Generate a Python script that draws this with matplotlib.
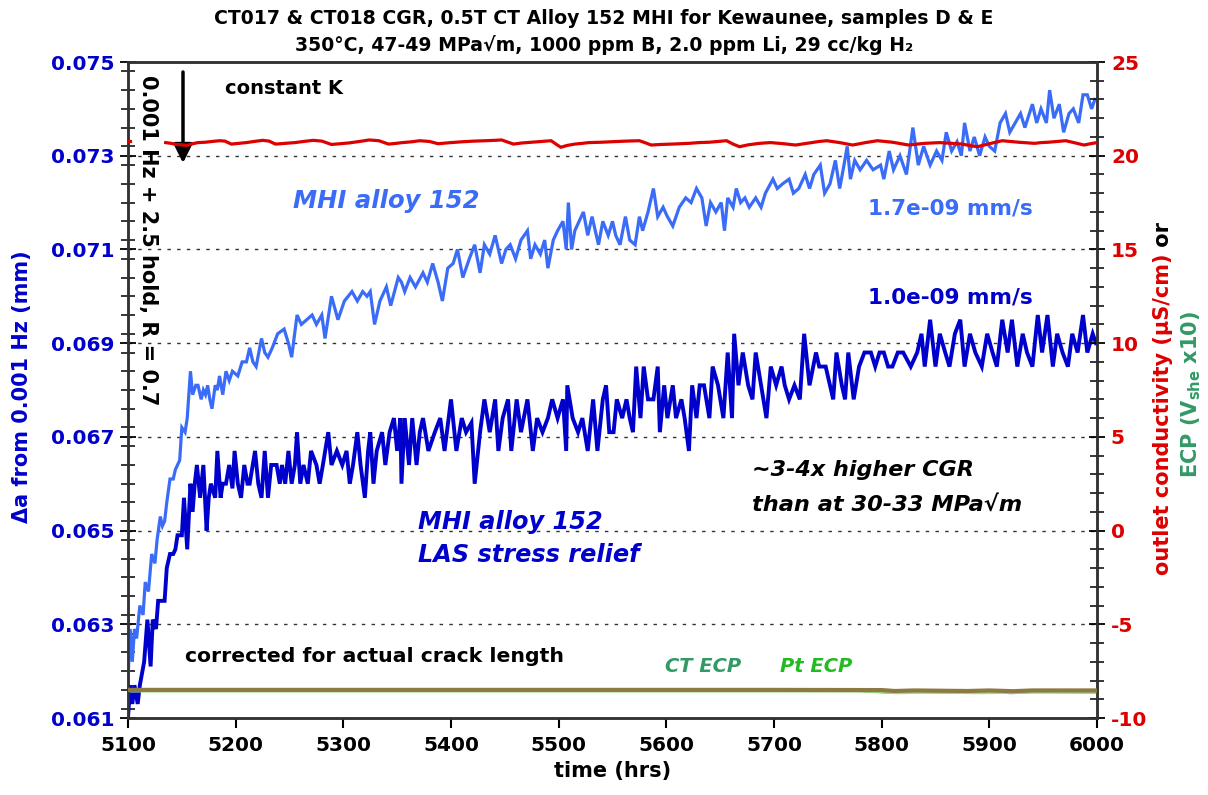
import matplotlib
matplotlib.use("Agg")
import matplotlib.pyplot as plt
from matplotlib.ticker import MultipleLocator, FormatStrFormatter

plt.rcParams['font.family'] = ['DejaVu Sans']
plt.rcParams['axes.unicode_minus'] = False

# ---------------- data ----------------
# MHI alloy 152 (light blue): (time hrs, delta a mm)
mhi_152 = [
    (5100, 0.0618), (5102, 0.0629), (5104, 0.0622), (5106, 0.0629), (5108, 0.0627),
    (5111, 0.0634), (5114, 0.0632), (5116, 0.0639), (5119, 0.0637), (5122, 0.0645),
    (5125, 0.0643), (5127, 0.0648), (5130, 0.0653), (5132, 0.0651), (5134, 0.0652),
    (5136, 0.0656), (5139, 0.0661), (5142, 0.0661), (5144, 0.0663), (5146, 0.0664),
    (5148, 0.0665), (5150, 0.0672), (5153, 0.0671), (5155, 0.0674), (5158, 0.0684),
    (5160, 0.0679), (5163, 0.0681), (5165, 0.0681), (5168, 0.0678), (5170, 0.0680),
    (5172, 0.0679), (5174, 0.0681), (5176, 0.0678), (5178, 0.0676), (5181, 0.0681),
    (5183, 0.0680), (5185, 0.0683), (5188, 0.0679), (5191, 0.0684), (5194, 0.0682),
    (5197, 0.0684), (5202, 0.0683), (5206, 0.0686), (5210, 0.0686), (5213, 0.0689),
    (5216, 0.0686), (5219, 0.0685), (5224, 0.0691), (5227, 0.0688), (5230, 0.0687),
    (5234, 0.0689), (5239, 0.0692), (5245, 0.0693), (5249, 0.0690), (5252, 0.0687),
    (5257, 0.0696), (5261, 0.0694), (5266, 0.0695), (5271, 0.0696), (5275, 0.0694),
    (5280, 0.0696), (5283, 0.0691), (5289, 0.0700), (5295, 0.0695), (5301, 0.0699),
    (5308, 0.0701), (5313, 0.0699), (5318, 0.0701), (5322, 0.0700), (5325, 0.0701),
    (5329, 0.0694), (5334, 0.0699), (5340, 0.0702), (5344, 0.0698), (5351, 0.0704),
    (5354, 0.0703), (5357, 0.0701), (5362, 0.0704), (5367, 0.0702), (5374, 0.0705),
    (5378, 0.0703), (5383, 0.0707), (5388, 0.0703), (5392, 0.0699), (5397, 0.0706),
    (5402, 0.0707), (5406, 0.0710), (5411, 0.0704), (5417, 0.0708), (5422, 0.0711),
    (5427, 0.0705), (5431, 0.0711), (5436, 0.0709), (5441, 0.0713), (5447, 0.0707),
    (5451, 0.0710), (5455, 0.0711), (5460, 0.0708), (5465, 0.0712), (5471, 0.0714),
    (5474, 0.0708), (5478, 0.0711), (5483, 0.0709), (5487, 0.0712), (5490, 0.0706),
    (5495, 0.0712), (5499, 0.0714), (5504, 0.0716), (5507, 0.0710), (5509, 0.0720),
    (5512, 0.0710), (5515, 0.0714), (5523, 0.0718), (5527, 0.0713), (5531, 0.0717),
    (5537, 0.0711), (5541, 0.0716), (5546, 0.0713), (5550, 0.0716), (5553, 0.0713),
    (5557, 0.0711), (5562, 0.0717), (5566, 0.0712), (5571, 0.0711), (5575, 0.0717),
    (5578, 0.0714), (5583, 0.0718), (5588, 0.0723), (5592, 0.0717), (5597, 0.0719),
    (5601, 0.0717), (5606, 0.0715), (5612, 0.0719), (5618, 0.0721), (5623, 0.0720),
    (5628, 0.0723), (5633, 0.0721), (5637, 0.0715), (5641, 0.0720), (5646, 0.0718),
    (5651, 0.0720), (5654, 0.0714), (5657, 0.0721), (5662, 0.0719), (5665, 0.0723),
    (5669, 0.0720), (5673, 0.0721), (5677, 0.0719), (5683, 0.0721), (5688, 0.0719),
    (5692, 0.0722), (5699, 0.0725), (5703, 0.0723), (5708, 0.0724), (5714, 0.0725),
    (5718, 0.0722), (5723, 0.0723), (5729, 0.0726), (5733, 0.0723), (5737, 0.0726),
    (5743, 0.0728), (5747, 0.0722), (5752, 0.0724), (5757, 0.0729), (5761, 0.0723),
    (5765, 0.0728), (5768, 0.0732), (5771, 0.0725), (5775, 0.0729), (5780, 0.0727),
    (5786, 0.0729), (5792, 0.0727), (5799, 0.0728), (5802, 0.0725), (5807, 0.0731),
    (5811, 0.0727), (5817, 0.0730), (5823, 0.0726), (5829, 0.0736), (5834, 0.0728),
    (5839, 0.0732), (5845, 0.0728), (5851, 0.0731), (5856, 0.0729), (5860, 0.0735),
    (5865, 0.0731), (5870, 0.0733), (5874, 0.0730), (5877, 0.0737), (5882, 0.0731),
    (5886, 0.0734), (5891, 0.0730), (5896, 0.0734), (5900, 0.0732), (5905, 0.0731),
    (5910, 0.0737), (5915, 0.0739), (5919, 0.0735), (5924, 0.0737), (5929, 0.0739),
    (5933, 0.0736), (5940, 0.0741), (5944, 0.0737), (5948, 0.0740), (5953, 0.0737),
    (5956, 0.0744), (5960, 0.0738), (5965, 0.0741), (5969, 0.0735), (5974, 0.0739),
    (5978, 0.0740), (5983, 0.0737), (5987, 0.0743), (5991, 0.0743), (5995, 0.0740),
    (5998, 0.0742),
]

# MHI alloy 152, LAS stress relief (dark blue)
mhi_152_las = [
    (5100, 0.0610), (5102, 0.0617), (5104, 0.0613), (5106, 0.0617), (5109, 0.0613),
    (5111, 0.0617), (5115, 0.0622), (5118, 0.0631), (5121, 0.0621), (5123, 0.0631),
    (5126, 0.0629), (5128, 0.0635), (5131, 0.0635), (5134, 0.0635), (5136, 0.0642),
    (5139, 0.0645), (5142, 0.0645), (5144, 0.0646), (5146, 0.0649), (5148, 0.0649),
    (5150, 0.0649), (5152, 0.0657), (5155, 0.0646), (5158, 0.0660), (5160, 0.0654),
    (5162, 0.0660), (5164, 0.0664), (5167, 0.0657), (5170, 0.0664), (5173, 0.0650),
    (5175, 0.0657), (5177, 0.0660), (5181, 0.0657), (5183, 0.0667), (5186, 0.0657),
    (5188, 0.0660), (5191, 0.0660), (5194, 0.0664), (5197, 0.0659), (5199, 0.0667),
    (5202, 0.0660), (5205, 0.0657), (5208, 0.0664), (5211, 0.0660), (5213, 0.0660),
    (5218, 0.0667), (5221, 0.0660), (5224, 0.0657), (5227, 0.0667), (5230, 0.0657),
    (5233, 0.0664), (5238, 0.0664), (5241, 0.0660), (5243, 0.0664), (5246, 0.0660),
    (5249, 0.0667), (5252, 0.0660), (5255, 0.0664), (5257, 0.0671), (5260, 0.0660),
    (5263, 0.0664), (5267, 0.0660), (5270, 0.0667), (5275, 0.0664), (5278, 0.0660),
    (5281, 0.0664), (5286, 0.0671), (5289, 0.0664), (5294, 0.0667), (5299, 0.0664),
    (5303, 0.0667), (5306, 0.0660), (5309, 0.0664), (5313, 0.0671), (5316, 0.0664),
    (5320, 0.0657), (5323, 0.0667), (5325, 0.0671), (5328, 0.0660), (5331, 0.0667),
    (5336, 0.0671), (5339, 0.0664), (5343, 0.0671), (5347, 0.0674), (5350, 0.0667),
    (5353, 0.0674), (5354, 0.0660), (5357, 0.0674), (5361, 0.0664), (5364, 0.0674),
    (5368, 0.0664), (5371, 0.0671), (5374, 0.0674), (5379, 0.0667), (5385, 0.0671),
    (5390, 0.0674), (5394, 0.0667), (5400, 0.0678), (5405, 0.0667), (5410, 0.0674),
    (5414, 0.0671), (5419, 0.0673), (5422, 0.0660), (5427, 0.0671), (5431, 0.0678),
    (5436, 0.0671), (5441, 0.0678), (5444, 0.0667), (5448, 0.0674), (5453, 0.0678),
    (5456, 0.0667), (5461, 0.0678), (5465, 0.0671), (5471, 0.0678), (5476, 0.0667),
    (5480, 0.0674), (5485, 0.0671), (5490, 0.0674), (5494, 0.0678), (5499, 0.0674),
    (5504, 0.0678), (5507, 0.0667), (5508, 0.0681), (5513, 0.0674), (5518, 0.0671),
    (5522, 0.0674), (5527, 0.0667), (5532, 0.0678), (5536, 0.0667), (5541, 0.0678),
    (5544, 0.0681), (5547, 0.0671), (5551, 0.0671), (5554, 0.0678), (5559, 0.0674),
    (5563, 0.0678), (5566, 0.0674), (5569, 0.0671), (5572, 0.0685), (5576, 0.0674),
    (5579, 0.0685), (5583, 0.0678), (5588, 0.0678), (5592, 0.0685), (5594, 0.0671),
    (5598, 0.0681), (5601, 0.0674), (5606, 0.0681), (5609, 0.0674), (5614, 0.0678),
    (5617, 0.0674), (5621, 0.0667), (5624, 0.0681), (5628, 0.0674), (5631, 0.0681),
    (5635, 0.0681), (5640, 0.0674), (5643, 0.0685), (5648, 0.0681), (5653, 0.0674),
    (5657, 0.0688), (5661, 0.0674), (5663, 0.0692), (5667, 0.0681), (5671, 0.0688),
    (5676, 0.0681), (5680, 0.0678), (5683, 0.0688), (5688, 0.0681), (5693, 0.0674),
    (5697, 0.0685), (5702, 0.0681), (5707, 0.0685), (5710, 0.0681), (5714, 0.0678),
    (5719, 0.0681), (5724, 0.0678), (5728, 0.0692), (5733, 0.0681), (5739, 0.0688),
    (5742, 0.0685), (5748, 0.0685), (5752, 0.0681), (5755, 0.0678), (5758, 0.0688),
    (5763, 0.0681), (5766, 0.0678), (5769, 0.0688), (5774, 0.0678), (5779, 0.0685),
    (5784, 0.0688), (5790, 0.0688), (5794, 0.0685), (5798, 0.0688), (5802, 0.0688),
    (5806, 0.0685), (5810, 0.0685), (5815, 0.0688), (5820, 0.0688), (5827, 0.0685),
    (5833, 0.0688), (5837, 0.0692), (5840, 0.0685), (5845, 0.0695), (5850, 0.0685),
    (5854, 0.0692), (5859, 0.0688), (5863, 0.0685), (5868, 0.0692), (5873, 0.0695),
    (5877, 0.0685), (5882, 0.0692), (5887, 0.0688), (5893, 0.0685), (5898, 0.0692),
    (5903, 0.0688), (5907, 0.0685), (5912, 0.0695), (5917, 0.0688), (5921, 0.0695),
    (5926, 0.0685), (5931, 0.0692), (5935, 0.0688), (5940, 0.0685), (5945, 0.0696),
    (5949, 0.0688), (5954, 0.0696), (5959, 0.0685), (5963, 0.0692), (5968, 0.0688),
    (5973, 0.0685), (5977, 0.0692), (5982, 0.0688), (5987, 0.0696), (5991, 0.0688),
    (5996, 0.0692), (5999, 0.0690),
]

# outlet conductivity (uS/cm), right axis
conductivity = [
    (5135, 20.70), (5140, 20.66), (5145, 20.60), (5150, 20.58), (5155, 20.55),
    (5160, 20.64), (5165, 20.70), (5172, 20.72), (5178, 20.76), (5185, 20.80),
    (5190, 20.78), (5196, 20.62), (5203, 20.66), (5210, 20.70), (5217, 20.76),
    (5225, 20.82), (5231, 20.78), (5237, 20.62), (5246, 20.66), (5255, 20.70),
    (5263, 20.76), (5272, 20.82), (5280, 20.78), (5289, 20.60), (5297, 20.64),
    (5305, 20.68), (5315, 20.76), (5324, 20.84), (5333, 20.80), (5342, 20.62),
    (5349, 20.66), (5355, 20.70), (5363, 20.74), (5371, 20.80), (5380, 20.76),
    (5388, 20.64), (5400, 20.70), (5412, 20.75), (5422, 20.78), (5432, 20.80),
    (5440, 20.82), (5447, 20.84), (5452, 20.74), (5458, 20.62), (5466, 20.68),
    (5475, 20.72), (5484, 20.76), (5493, 20.80), (5498, 20.60), (5502, 20.45),
    (5508, 20.55), (5515, 20.62), (5522, 20.66), (5528, 20.70), (5540, 20.72),
    (5551, 20.75), (5563, 20.78), (5575, 20.80), (5580, 20.70), (5586, 20.57),
    (5595, 20.60), (5605, 20.62), (5613, 20.64), (5621, 20.66), (5630, 20.70),
    (5640, 20.72), (5648, 20.76), (5656, 20.80), (5662, 20.62), (5668, 20.48),
    (5676, 20.58), (5685, 20.65), (5691, 20.68), (5697, 20.70), (5709, 20.64),
    (5720, 20.57), (5728, 20.64), (5735, 20.70), (5742, 20.76), (5749, 20.80),
    (5761, 20.70), (5773, 20.57), (5785, 20.70), (5796, 20.80), (5803, 20.76),
    (5810, 20.72), (5818, 20.64), (5825, 20.57), (5833, 20.62), (5840, 20.66),
    (5847, 20.68), (5854, 20.70), (5865, 20.66), (5875, 20.62), (5882, 20.54),
    (5889, 20.48), (5900, 20.64), (5912, 20.80), (5927, 20.72), (5942, 20.66),
    (5948, 20.70), (5955, 20.72), (5963, 20.76), (5971, 20.80), (5980, 20.68),
    (5988, 20.57), (5994, 20.64), (6000, 20.70),
]
conductivity_start = [(5100, 20.80), (5101.5, 20.80)]

# ECP traces (V_she x10), right axis
ct_ecp = [(5100, -8.52), (5780, -8.52), (5810, -8.62), (5830, -8.58),
          (5880, -8.62), (5900, -8.58), (5920, -8.64), (5940, -8.58), (6000, -8.60)]
pt_ecp = [(5100, -8.55), (5780, -8.55), (5815, -8.64), (5850, -8.60),
          (5885, -8.64), (5925, -8.62), (5960, -8.60), (6000, -8.62)]
olive_trace = [(5100, -8.50), (5300, -8.50), (5500, -8.50), (5700, -8.50),
               (5800, -8.51), (5812, -8.56), (5830, -8.53), (5880, -8.56),
               (5900, -8.53), (5922, -8.57), (5940, -8.53), (6000, -8.53)]

x_ticks = [5100, 5200, 5300, 5400, 5500, 5600, 5700, 5800, 5900, 6000]
left_ticks = [0.061, 0.063, 0.065, 0.067, 0.069, 0.071, 0.073, 0.075]
right_ticks = [-10, -5, 0, 5, 10, 15, 20, 25]
grid_levels = [0.063, 0.065, 0.067, 0.069, 0.071, 0.073]

# ---------------- colours ----------------
C_LB = '#3A6CF7'
C_DB = '#0000CC'
C_RED = '#DD0000'
C_GREEN = '#339966'
C_PTG = '#22BB22'
C_OLIVE = '#8C7A42'

W, H = 1208, 795


def fp(x, y):
    return x / W, 1 - y / H


fig = plt.figure(figsize=(12.08, 7.95), dpi=100)
l, r, t, b = 128, 1097, 62, 718
ax = fig.add_axes([l / W, 1 - b / H, (r - l) / W, (b - t) / H])
ax2 = ax.twinx()


def split(p):
    return [q[0] for q in p], [q[1] for q in p]


ax.set_xlim(5100, 6000)
ax.set_ylim(0.061, 0.075)
ax2.set_ylim(-10, 25)

for g in grid_levels:
    ax.axhline(g, color='#333333', lw=1.0, ls=(0, (2.5, 4.5)), zorder=0)

xs, ys = split(mhi_152)
ax.plot(xs, ys, color=C_LB, lw=2.3, zorder=3, solid_joinstyle='miter')
xs, ys = split(mhi_152_las)
ax.plot(xs, ys, color=C_DB, lw=2.8, zorder=4, solid_joinstyle='miter')

xs, ys = split(ct_ecp)
ax2.plot(xs, ys, color=C_GREEN, lw=2.5, zorder=2)
xs, ys = split(pt_ecp)
ax2.plot(xs, ys, color='#99DD88', lw=2.5, zorder=2)
xs, ys = split(olive_trace)
ax2.plot(xs, ys, color=C_OLIVE, lw=3.0, zorder=3)
xs, ys = split(conductivity)
ax2.plot(xs, ys, color=C_RED, lw=2.3, zorder=3)
xs, ys = split(conductivity_start)
ax2.plot(xs, ys, color=C_RED, lw=2.3, zorder=3)

# ticks
ax.set_xticks(x_ticks)
ax.set_yticks(left_ticks)
ax.yaxis.set_minor_locator(MultipleLocator(0.0004))
ax.yaxis.set_major_formatter(FormatStrFormatter('%.3f'))
ax2.set_yticks(right_ticks)
ax2.yaxis.set_minor_locator(MultipleLocator(1))

ax.tick_params(axis='x', which='major', direction='out', length=7, width=1.5,
               labelsize=14.5, pad=6, colors='black')
ax.tick_params(axis='y', which='major', direction='inout', length=12, width=1.3,
               labelsize=14.5, labelcolor=C_DB, pad=4)
ax.tick_params(axis='y', which='minor', direction='inout', length=10, width=1.1)
ax2.tick_params(axis='y', which='major', direction='inout', length=12, width=1.3,
                labelsize=14.5, labelcolor=C_RED, pad=4)
ax2.tick_params(axis='y', which='minor', direction='inout', length=10, width=1.1)
for lab in ax.get_xticklabels() + ax.get_yticklabels() + ax2.get_yticklabels():
    lab.set_fontweight('bold')

for a in (ax, ax2):
    for s in a.spines.values():
        s.set_linewidth(1.8)
        s.set_color('#333333')

ax.set_xlabel('time (hrs)', fontsize=15, fontweight='bold', labelpad=4)

# left label
fig.text(*fp(22, 387), 'Δa from 0.001 Hz (mm)', rotation=90, ha='center',
         va='center', fontsize=15, fontweight='bold', color=C_DB)

# right label (multi-coloured)
fig.canvas.draw()
renderer = fig.canvas.get_renderer()
t1 = fig.text(*fp(1163, 575), 'outlet conductivity (µS/cm)', rotation=90,
              ha='center', va='bottom', fontsize=15, fontweight='bold', color=C_RED)
bb = t1.get_window_extent(renderer)
fig.text(*fp(1163, H - bb.y1), ' or', rotation=90, ha='center', va='bottom',
         fontsize=15, fontweight='bold', color='black')
fig.text(*fp(1191, 394), r'ECP (V$_{\mathbf{she}}$ x10)', rotation=90, ha='center',
         va='center', fontsize=15, fontweight='bold', color=C_GREEN)

# title
fig.text(0.5, 1 - 18 / H, 'CT017 & CT018 CGR, 0.5T CT Alloy 152 MHI for Kewaunee, samples D & E',
         ha='center', va='center', fontsize=13.6, fontweight='bold')
fig.text(0.5, 1 - 45 / H, '350°C, 47-49 MPa√m, 1000 ppm B, 2.0 ppm Li, 29 cc/kg H₂',
         ha='center', va='center', fontsize=13.6, fontweight='bold')

# annotations
fig.text(*fp(148, 75), '0.001 Hz + 2.5 hold, R = 0.7', rotation=270, ha='center',
         va='top', fontsize=15, fontweight='bold', color='black')
ax.annotate('', xy=fp(183, 163), xytext=fp(183, 72), xycoords='figure fraction',
            textcoords='figure fraction',
            arrowprops=dict(arrowstyle='-|>', color='black', lw=2.5, mutation_scale=28,
                            shrinkA=0, shrinkB=0))
fig.text(*fp(225, 89), 'constant K', ha='left', va='center', fontsize=14,
         fontweight='bold', color='black')
fig.text(*fp(293, 201), 'MHI alloy 152', ha='left', va='center', fontsize=17.5,
         fontweight='bold', style='italic', color=C_LB)
fig.text(*fp(868, 208), '1.7e-09 mm/s', ha='left', va='center', fontsize=15.5,
         fontweight='bold', color=C_LB)
fig.text(*fp(868, 298), '1.0e-09 mm/s', ha='left', va='center', fontsize=15.5,
         fontweight='bold', color=C_DB)
fig.text(*fp(752, 470), '~3-4x higher CGR', ha='left', va='center', fontsize=16,
         fontweight='bold', style='italic', color='black')
fig.text(*fp(752, 505), 'than at 30-33 MPa√m', ha='left', va='center', fontsize=16.2,
         fontweight='bold', style='italic', color='black')
fig.text(*fp(418, 522), 'MHI alloy 152', ha='left', va='center', fontsize=17.3,
         fontweight='bold', style='italic', color=C_DB)
fig.text(*fp(418, 555), 'LAS stress relief', ha='left', va='center', fontsize=17.3,
         fontweight='bold', style='italic', color=C_DB)
fig.text(*fp(185, 656), 'corrected for actual crack length', ha='left', va='center',
         fontsize=14.7, fontweight='bold', color='black')
fig.text(*fp(665, 666), 'CT ECP', ha='left', va='center', fontsize=14,
         fontweight='bold', style='italic', color=C_GREEN)
fig.text(*fp(780, 666), 'Pt ECP', ha='left', va='center', fontsize=14,
         fontweight='bold', style='italic', color=C_PTG)

fig.savefig('out.png', dpi=100)
